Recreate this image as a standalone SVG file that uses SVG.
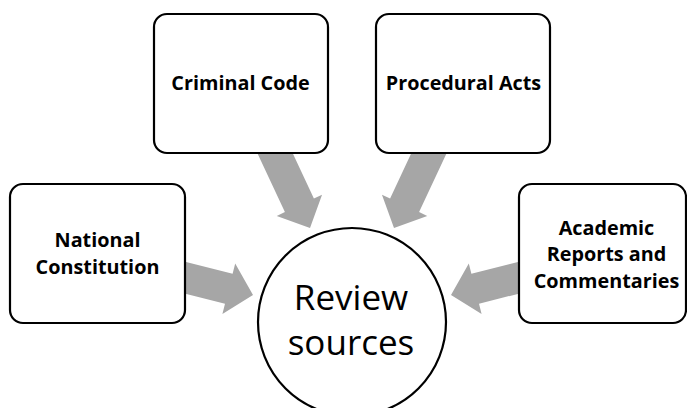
<svg xmlns="http://www.w3.org/2000/svg" width="687" height="408" viewBox="0 0 687 408">
  <style>
    .box { fill: #ffffff; stroke: #000000; stroke-width: 2.2; }
    .arrow { fill: #a6a6a6; stroke: none; }
    .lbl { font-family: "Open Sans", "Liberation Sans", sans-serif; font-weight: bold; font-size: 19.8px; fill: #000000; text-anchor: middle; }
    .big { font-family: "Open Sans", "Liberation Sans", sans-serif; font-size: 35px; fill: #000000; text-anchor: middle; }
  </style>
  <rect width="687" height="408" fill="#ffffff"/>
  <g id="connectors">
    <polygon class="arrow" points="184.1,261.4 232.6,273.8 235.2,263.6 253,295 222.4,314 225,303.8 176.5,291.4"/>
    <polygon class="arrow" points="285.7,138.2 313.9,198.6 322.05,194.8 310,228 276.75,215.9 284.9,212.1 256.7,151.7"/>
    <polygon class="arrow" points="418.3,138.2 390.1,198.6 381.95,194.8 394,228 427.25,215.9 419.1,212.1 447.3,151.7"/>
    <polygon class="arrow" points="519.9,261.4 471.4,273.8 468.8,263.6 451,295 481.6,314 479,303.8 527.5,291.4"/>
  </g>
  <g id="national-constitution">
    <rect class="box" x="10" y="184" width="175" height="139" rx="13" ry="13"/>
    <text class="lbl" x="97.5" y="247">National</text>
    <text class="lbl" x="97.5" y="274">Constitution</text>
  </g>
  <g id="criminal-code">
    <rect class="box" x="154" y="14" width="174" height="139" rx="13" ry="13"/>
    <text class="lbl" x="240.5" y="90">Criminal Code</text>
  </g>
  <g id="procedural-acts">
    <rect class="box" x="376" y="14" width="174" height="139" rx="13" ry="13"/>
    <text class="lbl" x="463.5" y="90">Procedural Acts</text>
  </g>
  <g id="academic-reports">
    <rect class="box" x="519" y="184" width="167" height="139" rx="13" ry="13"/>
    <text class="lbl" x="606.5" y="234.5">Academic</text>
    <text class="lbl" x="606.5" y="261">Reports and</text>
    <text class="lbl" x="606.5" y="287.5">Commentaries</text>
  </g>
  <g id="review-sources">
    <circle cx="352" cy="322" r="94" fill="#ffffff" stroke="#000000" stroke-width="2.2"/>
    <text class="big" x="351" y="310">Review</text>
    <text class="big" x="351" y="355">sources</text>
  </g>
</svg>
